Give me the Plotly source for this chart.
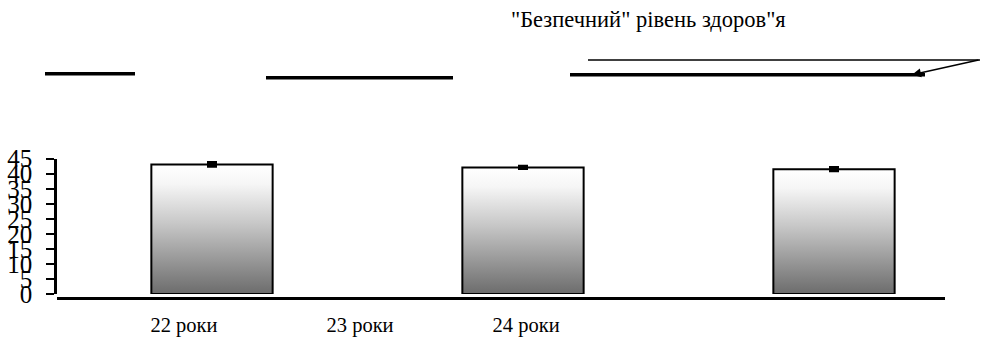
import plotly.graph_objects as go

# Дані діаграми
categories = ["22 роки", "23 роки", "24 роки"]
bar_pos = [0, 1, 2]
values = [43.1, 42.1, 41.5]
errors = [0.6, 0.35, 0.55]
label_pos = [-0.09, 0.476, 1.01]
y_ticks = [0, 5, 10, 15, 20, 25, 30, 35, 40, 45]

W, H = 985, 348
BAR_W = 0.39
SERIF = "Liberation Serif"

fig = go.Figure()

# Стовпці з вертикальним градієнтом
for c, v in zip(bar_pos, values):
    x0, x1 = c - BAR_W / 2, c + BAR_W / 2
    fig.add_trace(go.Scatter(
        x=[x0, x1, x1, x0, x0],
        y=[0, 0, v, v, 0],
        mode='lines',
        fill='toself',
        fillgradient=dict(type='vertical',
                          colorscale=[[0, '#6c6c6c'], [0.55, '#c8c8c8'], [0.85, '#f6f6f6'], [1, '#ffffff']]),
        line=dict(color='black', width=2),
        hoverinfo='skip',
        showlegend=False
    ))

# Похибки
fig.add_trace(go.Scatter(
    x=bar_pos, y=values,
    mode='markers',
    marker=dict(size=1, color='rgba(0,0,0,0)'),
    error_y=dict(type='data', array=errors, color='black', thickness=3, width=5),
    showlegend=False
))

# Піксель -> частка paper (з поправкою на видиму висоту області)
def px(x):
    return x / W

def py(y):
    return 1 - (y - 11.5) / 325

for x0, x1, y, w in [(45, 135, 73, 3.5), (266, 453, 77, 3.5), (570, 925, 74, 3.5), (588, 980, 59, 1.5)]:
    fig.add_shape(type='line', xref='paper', yref='paper',
                  x0=px(x0), x1=px(x1), y0=py(y), y1=py(y),
                  line=dict(color='black', width=w))

fig.add_annotation(xref='paper', yref='paper', x=px(509), y=py(18),
                   xanchor='left', yanchor='middle', showarrow=False,
                   text='"Безпечний" рівень здоров"я',
                   font=dict(family=SERIF, size=22.5, color='black'))

fig.add_annotation(xref='paper', yref='paper', x=px(912), y=py(74),
                   axref='pixel', ayref='pixel', ax=68, ay=-15,
                   text='', showarrow=True, arrowhead=2, arrowsize=1.2,
                   arrowwidth=1.5, arrowcolor='black')

fig.update_layout(
    width=W, height=H,
    autosize=False,
    margin=dict(l=0, r=0, t=0, b=0),
    paper_bgcolor='white', plot_bgcolor='white',
    font=dict(family=SERIF, color='black'),
    xaxis=dict(
        domain=[px(57), px(945)],
        range=[(57 - 212) / 311, (945 - 212) / 311],
        anchor='free', position=py(300),
        showline=True, linecolor='black', linewidth=2.5,
        showgrid=False, zeroline=False, ticks='',
        tickvals=label_pos, ticktext=categories,
        ticklabelstandoff=8,
        tickfont=dict(family=SERIF, size=20.5, color='black')
    ),
    yaxis=dict(
        domain=[py(296), py(159)],
        range=[0, 45],
        anchor='free', position=px(55),
        showline=True, linecolor='black', linewidth=2.5,
        showgrid=False, zeroline=False,
        ticks='outside', ticklen=8, tickwidth=2, tickcolor='black',
        tickvals=y_ticks, ticklabelstandoff=9,
        tickfont=dict(family=SERIF, size=25, color='black')
    )
)

fig.write_html(
    "out.html",
    config={'responsive': False, 'displayModeBar': False},
    post_script=(
        "document.documentElement.style.overflow='hidden';"
        "document.body.style.margin='0';"
        "var gd=document.querySelector('.plotly-graph-div');"
        "gd.style.position='fixed';gd.style.left='0';gd.style.top='0';"
    ),
)
